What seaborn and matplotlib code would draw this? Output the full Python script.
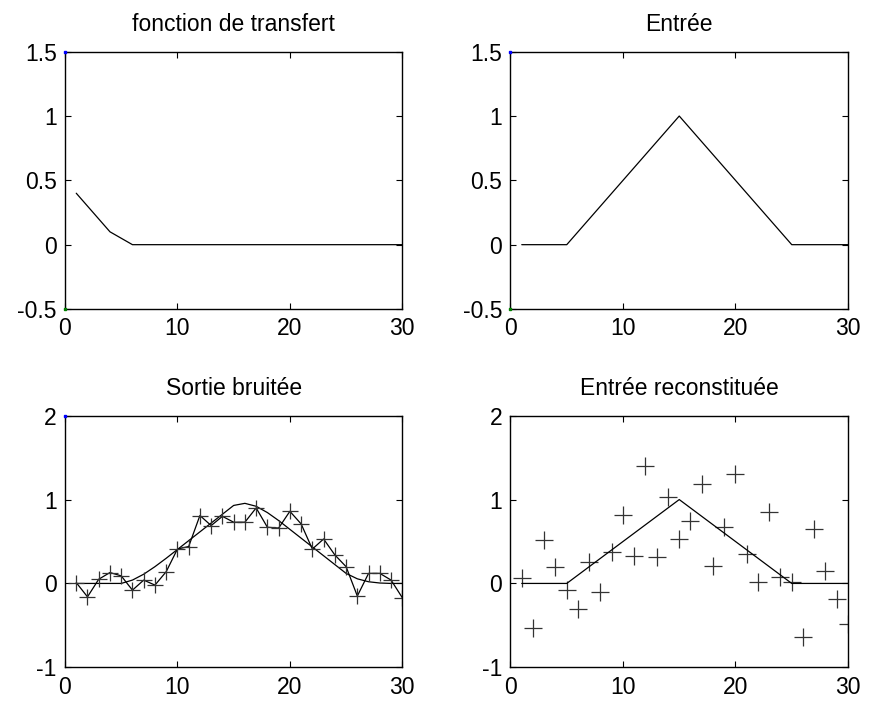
import matplotlib
matplotlib.use("Agg")
import matplotlib.pyplot as plt
import seaborn as sns
import pandas as pd

# Sample index
n = list(range(1, 31))

# Impulse response of the filter
h = [0.4, 0.3, 0.2, 0.1, 0.05, 0, 0, 0, 0, 0,
     0, 0, 0, 0, 0, 0, 0, 0, 0, 0,
     0, 0, 0, 0, 0, 0, 0, 0, 0, 0]

# Triangular input signal
e = [0, 0, 0, 0, 0, 0.1, 0.2, 0.3, 0.4, 0.5,
     0.6, 0.7, 0.8, 0.9, 1.0, 0.9, 0.8, 0.7, 0.6, 0.5,
     0.4, 0.3, 0.2, 0.1, 0, 0, 0, 0, 0, 0]

# Filtered output without noise
s = [0, 0, 0, 0, 0, 0.04, 0.11, 0.2, 0.3, 0.405,
     0.51, 0.615, 0.72, 0.825, 0.93, 0.955, 0.92, 0.845, 0.75, 0.645,
     0.54, 0.435, 0.33, 0.225, 0.12, 0.055, 0.02, 0.005, 0, 0]

# Noisy output measurements
s_noisy = [0.01, -0.16, 0.05, 0.13, 0.09, -0.08, 0.04, -0.02, 0.14, 0.41,
           0.44, 0.81, 0.69, 0.80, 0.73, 0.73, 0.90, 0.67, 0.66, 0.86,
           0.71, 0.41, 0.53, 0.34, 0.20, -0.15, 0.12, 0.12, 0.04, -0.17]

# Input reconstructed by deconvolution
e_rec = [0.07, -0.53, 0.52, 0.19, -0.08, -0.31, 0.26, -0.10, 0.37, 0.82,
         0.33, 1.40, 0.31, 1.03, 0.53, 0.75, 1.19, 0.21, 0.67, 1.30,
         0.35, 0.02, 0.85, 0.08, 0.02, -0.64, 0.65, 0.15, -0.18, -0.48]

titles = ["fonction de transfert", "Entrée", "Sortie bruitée", "Entrée reconstituée"]
x_ticks = [0, 10, 20, 30]
y_ticks_top = [-0.5, 0, 0.5, 1, 1.5]
y_labels_top = ["-0.5", "0", "0.5", "1", "1.5"]
y_ticks_bot = [-1, 0, 1, 2]
y_labels_bot = ["-1", "0", "1", "2"]

df = pd.DataFrame({"n": n, "h": h, "e": e, "s": s, "s_noisy": s_noisy, "e_rec": e_rec})

sns.set_theme(style="ticks")
plt.rcParams["font.family"] = ["Liberation Sans", "DejaVu Sans"]
plt.rcParams["axes.unicode_minus"] = False
plt.rcParams["text.color"] = "black"

W, H = 878, 704
fig = plt.figure(figsize=(W / 100, H / 100), dpi=100)
fig.patch.set_facecolor("white")

boxes = [
    (65, 51.7, 402.3, 309.0),
    (510.5, 51.7, 848.0, 309.0),
    (65, 415.7, 402.3, 667.3),
    (510.5, 415.7, 848.0, 667.3),
]
axes = []
for (x0, y0, x1, y1) in boxes:
    ax = fig.add_axes([x0 / W, 1 - y1 / H, (x1 - x0) / W, (y1 - y0) / H])
    axes.append(ax)

line_kw = dict(color="black", linewidth=0.9, legend=False)

# Transfer function
sns.lineplot(data=df, x="n", y="h", ax=axes[0], **line_kw)
# Input
sns.lineplot(data=df, x="n", y="e", ax=axes[1], **line_kw)
# Noisy output with noiseless output
sns.lineplot(data=df, x="n", y="s", ax=axes[2], **line_kw)
sns.lineplot(data=df, x="n", y="s_noisy", ax=axes[2], marker="+",
             markersize=12, markeredgewidth=0.9, markeredgecolor="#333333", **line_kw)
# Reconstructed input
sns.lineplot(data=df, x="n", y="e", ax=axes[3], **line_kw)
sns.scatterplot(data=df, x="n", y="e_rec", ax=axes[3], marker="+", s=150,
                color="#333333", linewidth=0.9, legend=False)

# Small corner markers along the left edge
for ax, pts in zip(axes, [[(0, 1.5, "blue"), (0, -0.5, "green")],
                          [(0, 1.5, "blue"), (0, -0.5, "green")],
                          [(0, 2, "blue")],
                          []]):
    for (px, py, c) in pts:
        ax.plot([px], [py], marker="s", markersize=2, color=c, clip_on=False, zorder=5)

for i, ax in enumerate(axes):
    ax.set_xlim(0, 30)
    ax.set_xticks(x_ticks)
    ax.set_xticklabels([str(t) for t in x_ticks])
    if i < 2:
        ax.set_ylim(-0.5, 1.5)
        ax.set_yticks(y_ticks_top)
        ax.set_yticklabels(y_labels_top)
    else:
        ax.set_ylim(-1, 2)
        ax.set_yticks(y_ticks_bot)
        ax.set_yticklabels(y_labels_bot)
    ax.set_xlabel("")
    ax.set_ylabel("")
    ax.set_title(titles[i], fontsize=16.5, pad=15, color="black")
    ax.set_facecolor("white")
    for sp in ax.spines.values():
        sp.set_visible(True)
        sp.set_color("black")
        sp.set_linewidth(1.0)
    ax.tick_params(direction="in", length=4, width=0.8, top=True, right=True,
                   labelsize=16.5, colors="black", pad=6)

fig.savefig("out.png", dpi=100, facecolor="white")
